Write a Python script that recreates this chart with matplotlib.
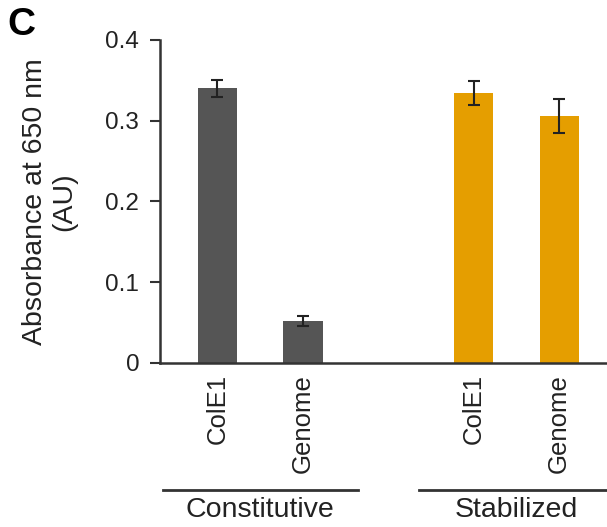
import matplotlib
matplotlib.use('Agg')
import matplotlib.pyplot as plt
import matplotlib.transforms as mtransforms

plt.rcParams['font.family'] = ['Liberation Sans', 'DejaVu Sans']

# data
categories = ['ColE1', 'Genome', 'ColE1', 'Genome']
groups = ['Constitutive', 'Stabilized']
positions = [0, 1, 3, 4]
values = [0.340, 0.052, 0.334, 0.306]
errors = [0.010, 0.006, 0.015, 0.021]
colors = ['#555555', '#555555', '#E59E00', '#E59E00']

fig = plt.figure(figsize=(6.07, 5.27), dpi=100)
ax = fig.add_axes([0.2636, 0.3112, 0.7364, 0.6129])

ax.bar(positions, values, width=0.46, color=colors)
ax.errorbar(positions, values, yerr=errors, fmt='none', ecolor='#222222',
            elinewidth=1.5, capsize=4, capthick=1.5)

ax.set_ylim(0, 0.4)
ax.set_xlim(-0.673, 4.56)
ax.set_yticks([0, 0.1, 0.2, 0.3, 0.4])
ax.set_yticklabels(['0', '0.1', '0.2', '0.3', '0.4'])
ax.set_xticks(positions)
ax.set_xticklabels(categories, rotation=90, va='top', ha='center')

for s in ['top', 'right']:
    ax.spines[s].set_visible(False)
for s in ['left', 'bottom']:
    ax.spines[s].set_linewidth(1.8)
    ax.spines[s].set_color('#333333')
ax.tick_params(axis='y', length=7, width=1.5, color='#333333', labelsize=17.5,
               pad=8, labelcolor='#222222')
ax.tick_params(axis='x', length=0, labelsize=18.5, pad=8, labelcolor='#222222')

ax.set_ylabel('Absorbance at 650 nm\n(AU)', fontsize=20.5, linespacing=1.15,
              color='#222222')
ax.yaxis.set_label_coords(-0.186, 0.5)

# group brackets under the category labels
trans = mtransforms.blended_transform_factory(ax.transData, ax.transAxes)
for i, g in enumerate(groups):
    c = 0.5 + 3 * i
    ax.plot([c - 1.14, c + 1.14], [-0.393, -0.393], transform=trans,
            color='#333333', lw=2, clip_on=False)
    ax.text(c, -0.455, g, transform=trans, ha='center', va='center',
            fontsize=20.5, color='#222222')

fig.text(0.036, 0.952, 'C', fontsize=28, fontweight='bold', ha='center', va='center')

fig.savefig('out.png', dpi=100)
